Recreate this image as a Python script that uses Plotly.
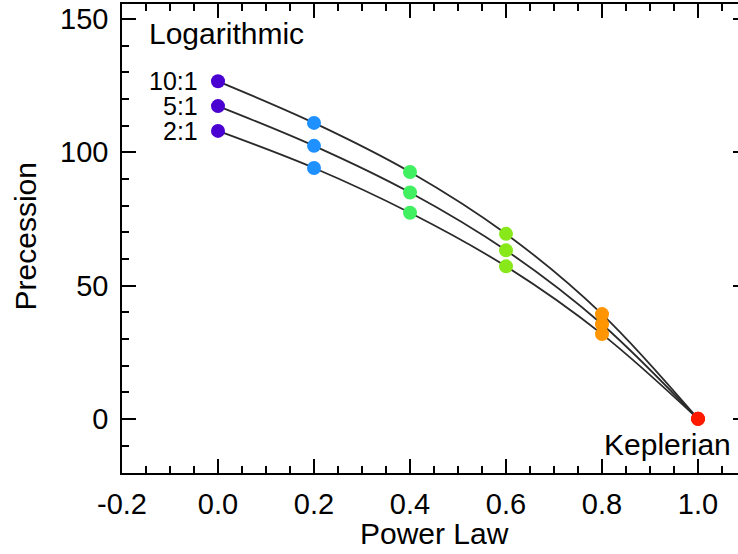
import plotly.graph_objects as go

power_law = [0.0, 0.2, 0.4, 0.6, 0.8, 1.0]
prec_10to1 = [126.6, 111.0, 92.6, 69.4, 39.3, 0.0]
prec_5to1 = [117.3, 102.4, 84.9, 63.2, 35.5, 0.0]
prec_2to1 = [108.0, 94.1, 77.3, 57.2, 31.8, 0.0]
series_labels = ["10:1", "5:1", "2:1"]
point_colors = ["#4a00d0", "#1e90ff", "#40f060", "#88e81a", "#ff9500", "#ff1a00"]

FONT = "Liberation Sans, Arial, Helvetica, sans-serif"
fig = go.Figure()

all_series = [prec_10to1, prec_5to1, prec_2to1]
for ys in all_series:
    fig.add_trace(go.Scatter(x=power_law, y=ys, mode="lines",
                             line=dict(color="#2a2a2a", width=1.8, shape="spline", smoothing=1.0),
                             hoverinfo="skip", showlegend=False))
for ys in all_series:
    fig.add_trace(go.Scatter(x=power_law, y=ys, mode="markers",
                             marker=dict(color=point_colors, size=14, line=dict(width=0)),
                             showlegend=False))

# invisible trace to activate right y axis
fig.add_trace(go.Scatter(x=[power_law[0]], y=[prec_2to1[0]], yaxis="y2", mode="markers",
                         marker=dict(opacity=0), showlegend=False, hoverinfo="skip"))

for lab, ys in zip(series_labels, all_series):
    fig.add_annotation(x=power_law[0], y=ys[0], text=lab, showarrow=False,
                       xanchor="right", yanchor="middle", xshift=-18,
                       font=dict(family=FONT, size=25, color="black"))
fig.add_annotation(x=-0.147, y=144.5, text="Logarithmic", showarrow=False,
                   xanchor="left", yanchor="middle",
                   font=dict(family=FONT, size=30, color="black"))
fig.add_annotation(x=power_law[-1], y=-9.7, text="Keplerian", showarrow=False,
                   xanchor="center", yanchor="middle", xshift=-31,
                   font=dict(family=FONT, size=30, color="black"))

fig.add_annotation(xref="paper", yref="paper", x=0.508, y=-0.13, text="Power Law",
                   showarrow=False, xanchor="center", yanchor="middle",
                   font=dict(family=FONT, size=30, color="black"))
fig.add_annotation(xref="paper", yref="paper", x=-0.157, y=0.505, text="Precession",
                   showarrow=False, textangle=-90, xanchor="center", yanchor="middle",
                   font=dict(family=FONT, size=30, color="black"))

yrange = [-20.3, 155.6]
fig.update_layout(
    width=738, height=554,
    margin=dict(l=122, r=0, t=4, b=81),
    paper_bgcolor="white", plot_bgcolor="white",
    font=dict(family=FONT, size=29, color="black"),
    xaxis=dict(range=[-0.2, 1.0833], tickvals=[-0.2, 0.0, 0.2, 0.4, 0.6, 0.8, 1.0],
               ticktext=["-0.2", "0.0", "0.2", "0.4", "0.6", "0.8", "1.0"],
               ticks="inside", ticklen=14, tickwidth=1.5, tickcolor="black",
               minor=dict(dtick=0.05, tick0=0, ticks="inside", ticklen=7, tickwidth=1.5, tickcolor="black"),
               showline=True, linecolor="black", linewidth=1.5, mirror="ticks",
               showgrid=False, zeroline=False, ticklabelstandoff=4),
    yaxis=dict(range=yrange, tickvals=[0, 50, 100, 150],
               ticks="inside", ticklen=14, tickwidth=1.5, tickcolor="black",
               minor=dict(dtick=10, tick0=0, ticks="inside", ticklen=7, tickwidth=1.5, tickcolor="black"),
               showline=True, linecolor="black", linewidth=1.5, mirror=False,
               showgrid=False, zeroline=False, ticklabelstandoff=6),
    yaxis2=dict(range=yrange, overlaying="y", side="right", tickvals=[0, 50, 100, 150],
                ticks="inside", ticklen=5, tickwidth=1.5, tickcolor="black",
                showticklabels=False, showline=False, showgrid=False, zeroline=False),
)

fig.write_html("out.html")
